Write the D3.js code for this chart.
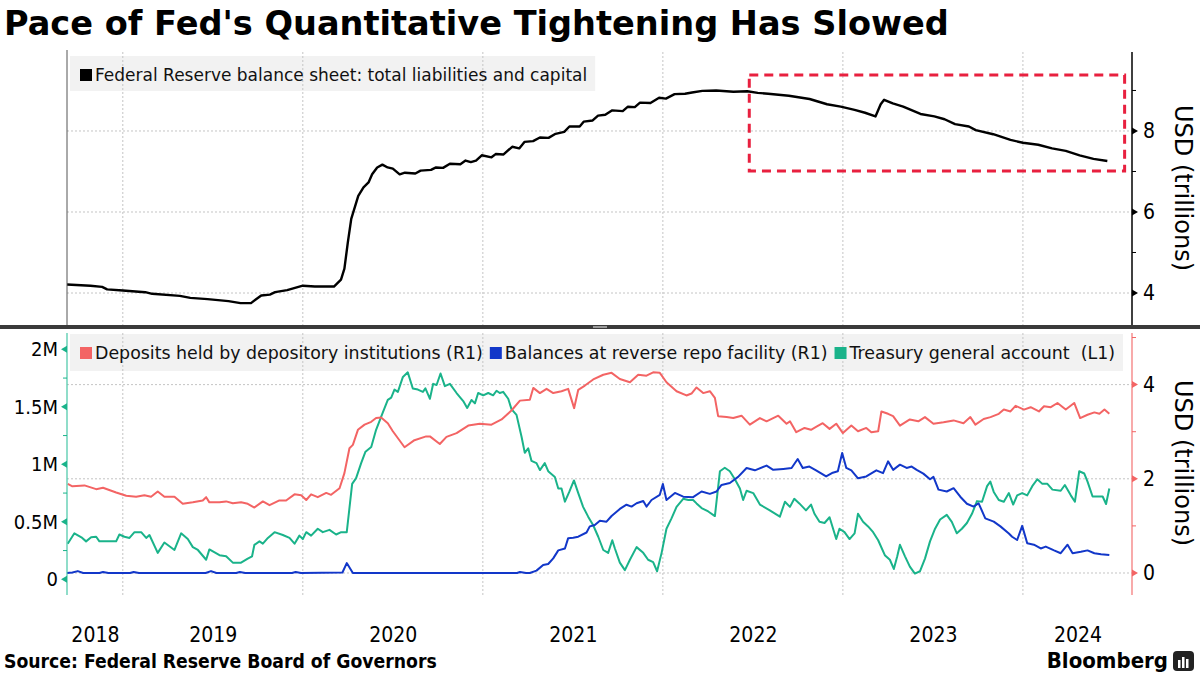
<!DOCTYPE html>
<html>
<head>
<meta charset="utf-8">
<script src="https://cdn.jsdelivr.net/npm/d3@7"></script>
<style>
  body { margin: 0; background: #fff; }
</style>
</head>
<body>
<svg id="chart" width="1200" height="675"></svg>
<script>
// dates are decimal years, values in USD trillions (TGA in USD millions of millions, "M")
var xDomain = [2018.69, 2024.606];
var years = [2018, 2019, 2020, 2021, 2022, 2023, 2024];
var topTicks = [4, 6, 8];
var topMinor = [5, 7, 9];
var leftTicks = [0, 0.5, 1, 1.5, 2];
var leftMinor = [0.25, 0.75, 1.25, 1.75];
var rightTicks = [0, 2, 4];
var rightMinor = [1, 3, 5];
var highlightBox = [2022.48, 2024.565, 7.01, 9.38];

var title = "Pace of Fed's Quantitative Tightening Has Slowed";
var topLegend = ["Federal Reserve balance sheet: total liabilities and capital"];
var bottomLegend = ["Deposits held by depository institutions (R1)", "Balances at reverse repo facility (R1)", "Treasury general account  (L1)"];
var source = "Source: Federal Reserve Board of Governors";

var balanceSheet = [
  [2018.69,4.21],[2018.82,4.18],[2018.885,4.15],[2018.913,4.09],[2019.0,4.06],[2019.125,4.02],[2019.163,3.98],
  [2019.317,3.93],[2019.375,3.88],[2019.471,3.85],[2019.587,3.80],[2019.654,3.75],[2019.712,3.75],[2019.769,3.94],
  [2019.817,3.96],[2019.846,4.02],[2019.913,4.07],[2020.0,4.18],[2020.067,4.16],[2020.173,4.16],[2020.212,4.33],
  [2020.231,4.60],[2020.25,5.25],[2020.269,5.83],[2020.308,6.40],[2020.337,6.61],[2020.365,6.73],[2020.385,6.93],
  [2020.413,7.10],[2020.442,7.17],[2020.471,7.10],[2020.5,7.07],[2020.538,6.93],[2020.567,6.97],[2020.625,6.95],
  [2020.654,7.02],[2020.712,7.04],[2020.74,7.10],[2020.779,7.09],[2020.817,7.19],[2020.875,7.18],[2020.904,7.27],
  [2020.933,7.23],[2020.962,7.27],[2020.994,7.40],[2021.048,7.35],[2021.071,7.43],[2021.115,7.42],[2021.163,7.61],
  [2021.202,7.57],[2021.231,7.73],[2021.279,7.75],[2021.317,7.84],[2021.365,7.83],[2021.404,7.93],[2021.452,7.98],
  [2021.481,8.11],[2021.538,8.11],[2021.56,8.23],[2021.61,8.26],[2021.64,8.38],[2021.68,8.40],[2021.719,8.51],
  [2021.777,8.49],[2021.806,8.60],[2021.844,8.59],[2021.873,8.70],[2021.931,8.69],[2021.979,8.82],[2022.017,8.80],
  [2022.065,8.91],[2022.123,8.92],[2022.162,8.95],[2022.219,8.99],[2022.296,9.00],[2022.392,8.97],[2022.469,8.98],
  [2022.527,8.94],[2022.585,8.92],[2022.7,8.87],[2022.815,8.79],[2022.912,8.66],[2022.988,8.60],[2023.065,8.52],
  [2023.123,8.45],[2023.181,8.36],[2023.21,8.66],[2023.229,8.77],[2023.277,8.68],[2023.335,8.60],[2023.431,8.42],
  [2023.508,8.36],[2023.565,8.29],[2023.623,8.17],[2023.7,8.11],[2023.738,8.02],[2023.835,7.92],[2023.931,7.78],
  [2024.0,7.71],[2024.085,7.66],[2024.162,7.57],[2024.238,7.51],[2024.315,7.40],[2024.392,7.31],[2024.469,7.26]
];

var deposits = [
  [2018.694,1.89],[2018.72,1.84],[2018.787,1.86],[2018.852,1.78],[2018.89,1.81],[2018.963,1.71],[2019.019,1.64],
  [2019.074,1.62],[2019.12,1.65],[2019.157,1.62],[2019.194,1.73],[2019.231,1.62],[2019.287,1.62],[2019.333,1.47],
  [2019.389,1.50],[2019.444,1.54],[2019.463,1.61],[2019.481,1.50],[2019.537,1.50],[2019.574,1.52],[2019.611,1.48],
  [2019.657,1.50],[2019.694,1.47],[2019.731,1.39],[2019.778,1.52],[2019.815,1.44],[2019.87,1.54],[2019.907,1.54],
  [2019.954,1.67],[2019.991,1.65],[2020.019,1.55],[2020.046,1.67],[2020.083,1.61],[2020.13,1.70],[2020.157,1.66],
  [2020.204,1.80],[2020.231,2.12],[2020.259,2.65],[2020.278,2.72],[2020.306,3.04],[2020.343,3.15],[2020.38,3.21],
  [2020.407,3.29],[2020.435,3.30],[2020.472,3.18],[2020.5,3.01],[2020.565,2.67],[2020.62,2.82],[2020.685,2.90],
  [2020.706,2.90],[2020.761,2.74],[2020.798,2.89],[2020.854,2.97],[2020.919,3.13],[2020.983,3.17],[2021.048,3.15],
  [2021.104,3.26],[2021.159,3.45],[2021.206,3.66],[2021.261,3.68],[2021.28,3.93],[2021.317,3.82],[2021.354,3.91],
  [2021.391,3.82],[2021.437,3.86],[2021.474,3.91],[2021.507,3.50],[2021.53,3.89],[2021.567,3.98],[2021.613,4.11],
  [2021.669,4.21],[2021.715,4.25],[2021.761,4.12],[2021.817,4.05],[2021.863,4.21],[2021.909,4.19],[2021.946,4.26],
  [2021.983,4.25],[2022.02,4.05],[2022.076,3.86],[2022.131,3.77],[2022.159,3.81],[2022.187,3.94],[2022.224,3.82],
  [2022.261,3.86],[2022.289,3.72],[2022.307,3.33],[2022.354,3.31],[2022.391,3.29],[2022.437,3.34],[2022.483,3.15],
  [2022.539,3.29],[2022.576,3.22],[2022.641,3.34],[2022.687,3.17],[2022.706,3.22],[2022.741,2.99],[2022.787,3.08],
  [2022.823,3.04],[2022.851,3.10],[2022.888,3.18],[2022.926,3.06],[2022.963,3.17],[2023.0,2.97],[2023.047,3.13],
  [2023.084,3.01],[2023.13,3.08],[2023.158,2.99],[2023.196,3.01],[2023.214,3.43],[2023.251,3.38],[2023.279,3.33],
  [2023.317,3.13],[2023.372,3.26],[2023.419,3.22],[2023.456,3.31],[2023.503,3.17],[2023.559,3.20],[2023.615,3.24],
  [2023.67,3.18],[2023.708,3.31],[2023.736,3.15],[2023.782,3.27],[2023.82,3.31],[2023.866,3.38],[2023.894,3.47],
  [2023.931,3.43],[2023.959,3.55],[2024.006,3.47],[2024.043,3.52],[2024.089,3.43],[2024.117,3.54],[2024.155,3.52],
  [2024.192,3.61],[2024.238,3.47],[2024.285,3.61],[2024.318,3.29],[2024.359,3.36],[2024.397,3.41],[2024.425,3.38],
  [2024.453,3.47],[2024.48,3.38]
];

var reverseRepo = [
  [2018.69,0.0],[2018.72,0.01],[2018.75,0.04],[2018.78,0.0],[2018.87,0.0],[2018.89,0.02],[2018.92,0.0],[2019.04,0.0],
  [2019.06,0.02],[2019.09,0.0],[2019.46,0.0],[2019.49,0.04],[2019.52,0.0],[2019.63,0.0],[2019.65,0.02],[2019.68,0.0],
  [2019.94,0.0],[2019.96,0.02],[2019.99,0.0],[2020.22,0.01],[2020.244,0.21],[2020.278,0.0],[2021.19,0.0],
  [2021.206,0.02],[2021.24,0.0],[2021.261,0.0],[2021.298,0.05],[2021.335,0.17],[2021.363,0.19],[2021.391,0.31],
  [2021.419,0.48],[2021.456,0.52],[2021.474,0.74],[2021.502,0.75],[2021.53,0.77],[2021.576,0.86],[2021.594,0.99],
  [2021.622,1.02],[2021.65,1.11],[2021.687,1.09],[2021.715,1.21],[2021.761,1.36],[2021.798,1.45],[2021.826,1.41],
  [2021.854,1.48],[2021.891,1.53],[2021.909,1.41],[2021.937,1.55],[2021.983,1.66],[2022.0,1.89],[2022.02,1.55],
  [2022.067,1.70],[2022.113,1.62],[2022.168,1.61],[2022.215,1.73],[2022.261,1.68],[2022.298,1.73],[2022.326,1.87],
  [2022.372,1.91],[2022.418,2.04],[2022.465,2.23],[2022.511,2.18],[2022.576,2.28],[2022.613,2.19],[2022.669,2.21],
  [2022.715,2.23],[2022.749,2.42],[2022.777,2.23],[2022.814,2.26],[2022.851,2.18],[2022.907,2.05],[2022.944,2.13],
  [2022.972,2.16],[2022.996,2.55],[2023.019,2.23],[2023.047,2.18],[2023.084,2.01],[2023.13,2.05],[2023.186,2.18],
  [2023.223,2.12],[2023.251,2.37],[2023.279,2.19],[2023.317,2.30],[2023.354,2.23],[2023.382,2.26],[2023.41,2.19],
  [2023.447,2.11],[2023.484,1.99],[2023.503,2.04],[2023.531,1.77],[2023.577,1.73],[2023.615,1.80],[2023.652,1.62],
  [2023.689,1.47],[2023.726,1.41],[2023.754,1.48],[2023.791,1.16],[2023.838,1.09],[2023.875,0.99],[2023.922,0.84],
  [2023.94,0.77],[2023.968,0.70],[2023.996,1.00],[2024.024,0.63],[2024.061,0.60],[2024.099,0.52],[2024.127,0.56],
  [2024.173,0.48],[2024.21,0.42],[2024.248,0.60],[2024.276,0.42],[2024.322,0.45],[2024.359,0.48],[2024.397,0.42],
  [2024.434,0.40],[2024.48,0.38]
];

var tga = [
  [2018.694,0.31],[2018.731,0.40],[2018.77,0.365],[2018.796,0.33],[2018.824,0.365],[2018.852,0.37],[2018.87,0.33],
  [2018.926,0.33],[2018.963,0.33],[2018.981,0.39],[2019.009,0.37],[2019.037,0.36],[2019.065,0.41],[2019.102,0.41],
  [2019.13,0.36],[2019.148,0.385],[2019.194,0.23],[2019.231,0.32],[2019.287,0.255],[2019.324,0.40],[2019.361,0.35],
  [2019.389,0.28],[2019.417,0.255],[2019.463,0.17],[2019.481,0.26],[2019.537,0.21],[2019.574,0.20],[2019.611,0.145],
  [2019.657,0.145],[2019.694,0.18],[2019.718,0.20],[2019.731,0.30],[2019.759,0.33],[2019.778,0.31],[2019.806,0.36],
  [2019.843,0.41],[2019.889,0.385],[2019.926,0.36],[2019.954,0.31],[2019.981,0.38],[2020.0,0.35],[2020.019,0.41],
  [2020.046,0.38],[2020.083,0.44],[2020.111,0.41],[2020.148,0.43],[2020.185,0.39],[2020.213,0.41],[2020.244,0.41],
  [2020.274,0.83],[2020.296,0.88],[2020.324,1.01],[2020.348,1.11],[2020.38,1.15],[2020.407,1.30],[2020.444,1.45],
  [2020.472,1.56],[2020.491,1.58],[2020.509,1.65],[2020.528,1.63],[2020.556,1.76],[2020.583,1.80],[2020.611,1.66],
  [2020.639,1.65],[2020.667,1.63],[2020.681,1.66],[2020.706,1.57],[2020.724,1.70],[2020.743,1.69],[2020.765,1.79],
  [2020.789,1.68],[2020.817,1.70],[2020.854,1.62],[2020.891,1.55],[2020.913,1.49],[2020.937,1.56],[2020.956,1.53],
  [2020.974,1.62],[2021.002,1.60],[2021.03,1.62],[2021.057,1.60],[2021.076,1.64],[2021.094,1.62],[2021.113,1.63],
  [2021.141,1.57],[2021.159,1.48],[2021.187,1.43],[2021.215,1.24],[2021.233,1.10],[2021.252,1.14],[2021.27,1.03],
  [2021.298,1.01],[2021.317,0.95],[2021.344,1.01],[2021.363,0.94],[2021.4,0.89],[2021.419,0.79],[2021.437,0.79],
  [2021.456,0.675],[2021.48,0.76],[2021.506,0.86],[2021.53,0.75],[2021.557,0.63],[2021.585,0.545],[2021.613,0.47],
  [2021.641,0.37],[2021.669,0.255],[2021.696,0.23],[2021.719,0.34],[2021.733,0.27],[2021.761,0.145],[2021.789,0.08],
  [2021.817,0.17],[2021.854,0.28],[2021.891,0.23],[2021.918,0.17],[2021.946,0.15],[2021.968,0.07],[2021.993,0.23],
  [2022.02,0.44],[2022.048,0.53],[2022.076,0.63],[2022.113,0.70],[2022.141,0.69],[2022.168,0.69],[2022.187,0.66],
  [2022.215,0.62],[2022.252,0.59],[2022.289,0.55],[2022.317,0.94],[2022.344,0.97],[2022.372,0.94],[2022.4,0.87],
  [2022.428,0.79],[2022.446,0.69],[2022.465,0.77],[2022.502,0.75],[2022.539,0.65],[2022.594,0.60],[2022.65,0.545],
  [2022.678,0.675],[2022.706,0.63],[2022.73,0.70],[2022.758,0.66],[2022.795,0.60],[2022.823,0.65],[2022.842,0.57],
  [2022.87,0.50],[2022.898,0.49],[2022.926,0.54],[2022.963,0.35],[2022.981,0.44],[2023.009,0.41],[2023.037,0.35],
  [2023.065,0.40],[2023.084,0.57],[2023.112,0.50],[2023.14,0.46],[2023.168,0.41],[2023.196,0.34],[2023.233,0.21],
  [2023.261,0.17],[2023.283,0.09],[2023.302,0.20],[2023.317,0.30],[2023.345,0.20],[2023.372,0.11],[2023.4,0.05],
  [2023.428,0.07],[2023.456,0.18],[2023.484,0.33],[2023.512,0.44],[2023.54,0.52],[2023.577,0.56],[2023.605,0.50],
  [2023.633,0.40],[2023.661,0.44],[2023.689,0.49],[2023.717,0.57],[2023.745,0.68],[2023.773,0.675],[2023.801,0.81],
  [2023.819,0.85],[2023.838,0.76],[2023.866,0.69],[2023.894,0.675],[2023.922,0.75],[2023.946,0.65],[2023.968,0.73],
  [2023.996,0.75],[2024.024,0.73],[2024.052,0.81],[2024.08,0.87],[2024.108,0.83],[2024.136,0.83],[2024.164,0.78],
  [2024.21,0.77],[2024.233,0.82],[2024.266,0.73],[2024.289,0.675],[2024.313,0.94],[2024.341,0.92],[2024.359,0.85],
  [2024.387,0.72],[2024.415,0.72],[2024.443,0.72],[2024.462,0.655],[2024.48,0.79]
];

var RED = "#f36464", BLUE = "#1237c9", TEAL = "#1ab38a";
var COND = '"DejaVu Sans Condensed", "DejaVu Sans", sans-serif';
var SANS = '"DejaVu Sans", sans-serif';

var svg = d3.select("#chart");
var L = 67, R = 1132;

var x = d3.scaleLinear().domain(xDomain).range([L, R]);
var yTop = d3.scaleLinear().domain([3.21, 9.95]).range([325, 52]);
var yR = d3.scaleLinear().domain([-0.425, 5.096]).range([593, 333]);
var yL = d3.scaleLinear().domain([-0.119, 2.142]).range([593, 333]);

// title
svg.append("text")
    .attr("x", 4).attr("y", 35)
    .attr("font-family", SANS)
    .attr("font-weight", "bold")
    .attr("font-size", 33.6)
    .text(title);

// legend backgrounds
var topLegBox = svg.append("rect").attr("x", 70).attr("y", 56).attr("height", 35).attr("fill", "#f2f2f2");
var botLegBox = svg.append("rect").attr("x", 70).attr("y", 334).attr("height", 37).attr("fill", "#f2f2f2");

// gridlines
var grid = svg.append("g")
    .attr("stroke", "#c4c4c4")
    .attr("stroke-width", 1)
    .attr("stroke-dasharray", "2,2");

grid.selectAll(".vtop").data(years.slice(1)).join("line").attr("class", "vtop")
    .attr("x1", d => x(d)).attr("x2", d => x(d)).attr("y1", 52).attr("y2", 325);
grid.selectAll(".vbot").data(years.slice(1)).join("line").attr("class", "vbot")
    .attr("x1", d => x(d)).attr("x2", d => x(d)).attr("y1", 333).attr("y2", 595);
grid.selectAll(".htop").data(topTicks).join("line").attr("class", "htop")
    .attr("x1", L).attr("x2", R).attr("y1", d => yTop(d)).attr("y2", d => yTop(d));
grid.selectAll(".hbot").data(rightTicks).join("line").attr("class", "hbot")
    .attr("x1", L).attr("x2", R).attr("y1", d => yR(d)).attr("y2", d => yR(d));

// lines
var lineTop = d3.line().x(d => x(d[0])).y(d => yTop(d[1]));
var lineR = d3.line().x(d => x(d[0])).y(d => yR(d[1]));
var lineL = d3.line().x(d => x(d[0])).y(d => yL(d[1]));

svg.append("path").datum(balanceSheet).attr("d", lineTop)
    .attr("fill", "none").attr("stroke", "#000").attr("stroke-width", 2.4).attr("stroke-linejoin", "round");
svg.append("path").datum(tga).attr("d", lineL)
    .attr("fill", "none").attr("stroke", TEAL).attr("stroke-width", 2).attr("stroke-linejoin", "round");
svg.append("path").datum(deposits).attr("d", lineR)
    .attr("fill", "none").attr("stroke", RED).attr("stroke-width", 2).attr("stroke-linejoin", "round");
svg.append("path").datum(reverseRepo).attr("d", lineR)
    .attr("fill", "none").attr("stroke", BLUE).attr("stroke-width", 2).attr("stroke-linejoin", "round");

// highlight box
svg.append("rect")
    .attr("x", x(highlightBox[0]))
    .attr("y", yTop(highlightBox[3]))
    .attr("width", x(highlightBox[1]) - x(highlightBox[0]))
    .attr("height", yTop(highlightBox[2]) - yTop(highlightBox[3]))
    .attr("fill", "none")
    .attr("stroke", "#e8203f")
    .attr("stroke-width", 3)
    .attr("stroke-dasharray", "9,6");

// legends
function legend(items, cols, x0, yText, box, size, gap) {
    var cx = x0;
    items.forEach(function(label, i) {
        svg.append("rect").attr("x", cx).attr("y", yText - 12).attr("width", 12).attr("height", 12).attr("fill", cols[i]);
        var t = svg.append("text").attr("x", cx + 15).attr("y", yText)
            .attr("font-family", SANS).attr("font-size", size).attr("fill", "#111")
            .attr("xml:space", "preserve")
            .text(label);
        cx = cx + 15 + t.node().getComputedTextLength() + gap;
    });
    box.attr("width", cx - 70 + 8 - gap);
}
legend(topLegend, ["#000"], 80, 81, topLegBox, 17, 6);
legend(bottomLegend, [RED, BLUE, TEAL], 80, 359, botLegBox, 17.4, 7);

// top panel frame
svg.append("line").attr("x1", L).attr("x2", L).attr("y1", 50).attr("y2", 326).attr("stroke", "#555").attr("stroke-width", 1);
svg.append("line").attr("x1", R).attr("x2", R).attr("y1", 52).attr("y2", 326).attr("stroke", "#000").attr("stroke-width", 1.5);

var axTop = svg.append("g").attr("transform", `translate(${R},0)`)
    .call(d3.axisRight(yTop).tickValues(topTicks).tickSize(0).tickPadding(11).tickFormat(d3.format("d")));
axTop.select(".domain").remove();
axTop.selectAll("text").attr("font-family", COND).attr("font-size", 21).attr("fill", "#000");

svg.selectAll(".tritop").data(topTicks).join("path").attr("class", "tritop")
    .attr("d", "M0,-3.5L6,0L0,3.5Z").attr("fill", "#000")
    .attr("transform", d => `translate(${R},${yTop(d)})`);
svg.selectAll(".mintop").data(topMinor).join("line").attr("class", "mintop")
    .attr("x1", R).attr("x2", R + 4).attr("y1", d => yTop(d)).attr("y2", d => yTop(d))
    .attr("stroke", "#000");

// separator between panels
svg.append("rect").attr("x", 0).attr("y", 325).attr("width", 1200).attr("height", 4).attr("fill", "#3a3a3a");
svg.append("rect").attr("x", 593).attr("y", 326).attr("width", 14).attr("height", 2).attr("fill", "#9a9a9a");

// bottom left axis (TGA)
svg.append("line").attr("x1", L).attr("x2", L).attr("y1", 333).attr("y2", 595).attr("stroke", "#45c6a6").attr("stroke-width", 1.2);
var axL = svg.append("g").attr("transform", `translate(${L},0)`)
    .call(d3.axisLeft(yL).tickValues(leftTicks).tickSize(0).tickPadding(9)
        .tickFormat(d => d === 0 ? "0" : d + "M"));
axL.select(".domain").remove();
axL.selectAll("text").attr("font-family", COND).attr("font-size", 20).attr("fill", "#000");
svg.selectAll(".trileft").data(leftTicks).join("path").attr("class", "trileft")
    .attr("d", "M0,-3.5L-6,0L0,3.5Z").attr("fill", TEAL)
    .attr("transform", d => `translate(${L},${yL(d)})`);
svg.selectAll(".minleft").data(leftMinor).join("line").attr("class", "minleft")
    .attr("x1", L - 4).attr("x2", L).attr("y1", d => yL(d)).attr("y2", d => yL(d))
    .attr("stroke", TEAL);

// bottom right axis (deposits, reverse repo)
svg.append("line").attr("x1", R).attr("x2", R).attr("y1", 333).attr("y2", 595).attr("stroke", "#f47272").attr("stroke-width", 1.2);
var axR = svg.append("g").attr("transform", `translate(${R},0)`)
    .call(d3.axisRight(yR).tickValues(rightTicks).tickSize(0).tickPadding(11).tickFormat(d3.format("d")));
axR.select(".domain").remove();
axR.selectAll("text").attr("font-family", COND).attr("font-size", 21).attr("fill", "#000");
svg.selectAll(".triright").data(rightTicks).join("path").attr("class", "triright")
    .attr("d", "M0,-3.5L6,0L0,3.5Z").attr("fill", RED)
    .attr("transform", d => `translate(${R},${yR(d)})`);
svg.selectAll(".minright").data(rightMinor).join("line").attr("class", "minright")
    .attr("x1", R).attr("x2", R + 4).attr("y1", d => yR(d)).attr("y2", d => yR(d))
    .attr("stroke", RED);

// axis titles
[188, 463].forEach(function(cy) {
    svg.append("text")
        .attr("transform", `translate(1183,${cy}) rotate(90)`)
        .attr("text-anchor", "middle")
        .attr("dominant-baseline", "central")
        .attr("font-family", SANS)
        .attr("font-size", 24)
        .attr("fill", "#000")
        .text("USD (trillions)");
});

// year axis, labels centred in each visible year
var yearCenters = years.map(yr => (Math.max(yr, xDomain[0]) + Math.min(yr + 1, xDomain[1])) / 2);
var axX = svg.append("g").attr("transform", "translate(0,627)")
    .call(d3.axisBottom(x).tickValues(yearCenters).tickSize(0).tickPadding(0)
        .tickFormat((d, i) => years[i]));
axX.select(".domain").remove();
axX.selectAll("text").attr("font-family", COND).attr("font-size", 21).attr("fill", "#000");

// footer
svg.append("text").attr("x", 4).attr("y", 668)
    .attr("font-family", COND).attr("font-weight", "bold").attr("font-size", 19.2)
    .text(source);
svg.append("text").attr("x", 1168).attr("y", 668).attr("text-anchor", "end")
    .attr("font-family", COND).attr("font-weight", "bold").attr("font-size", 22)
    .text("Bloomberg");
var logo = svg.append("g").attr("transform", "translate(1173,651)");
logo.append("rect").attr("width", 21).attr("height", 20).attr("rx", 4).attr("fill", "#222");
logo.selectAll(".bar").data([[5, 9, 8], [9, 6, 11], [13, 8, 9]]).join("rect").attr("class", "bar")
    .attr("x", d => d[0]).attr("y", d => d[1]).attr("width", 2.5).attr("height", d => d[2]).attr("fill", "#fff");
</script>
</body>
</html>
